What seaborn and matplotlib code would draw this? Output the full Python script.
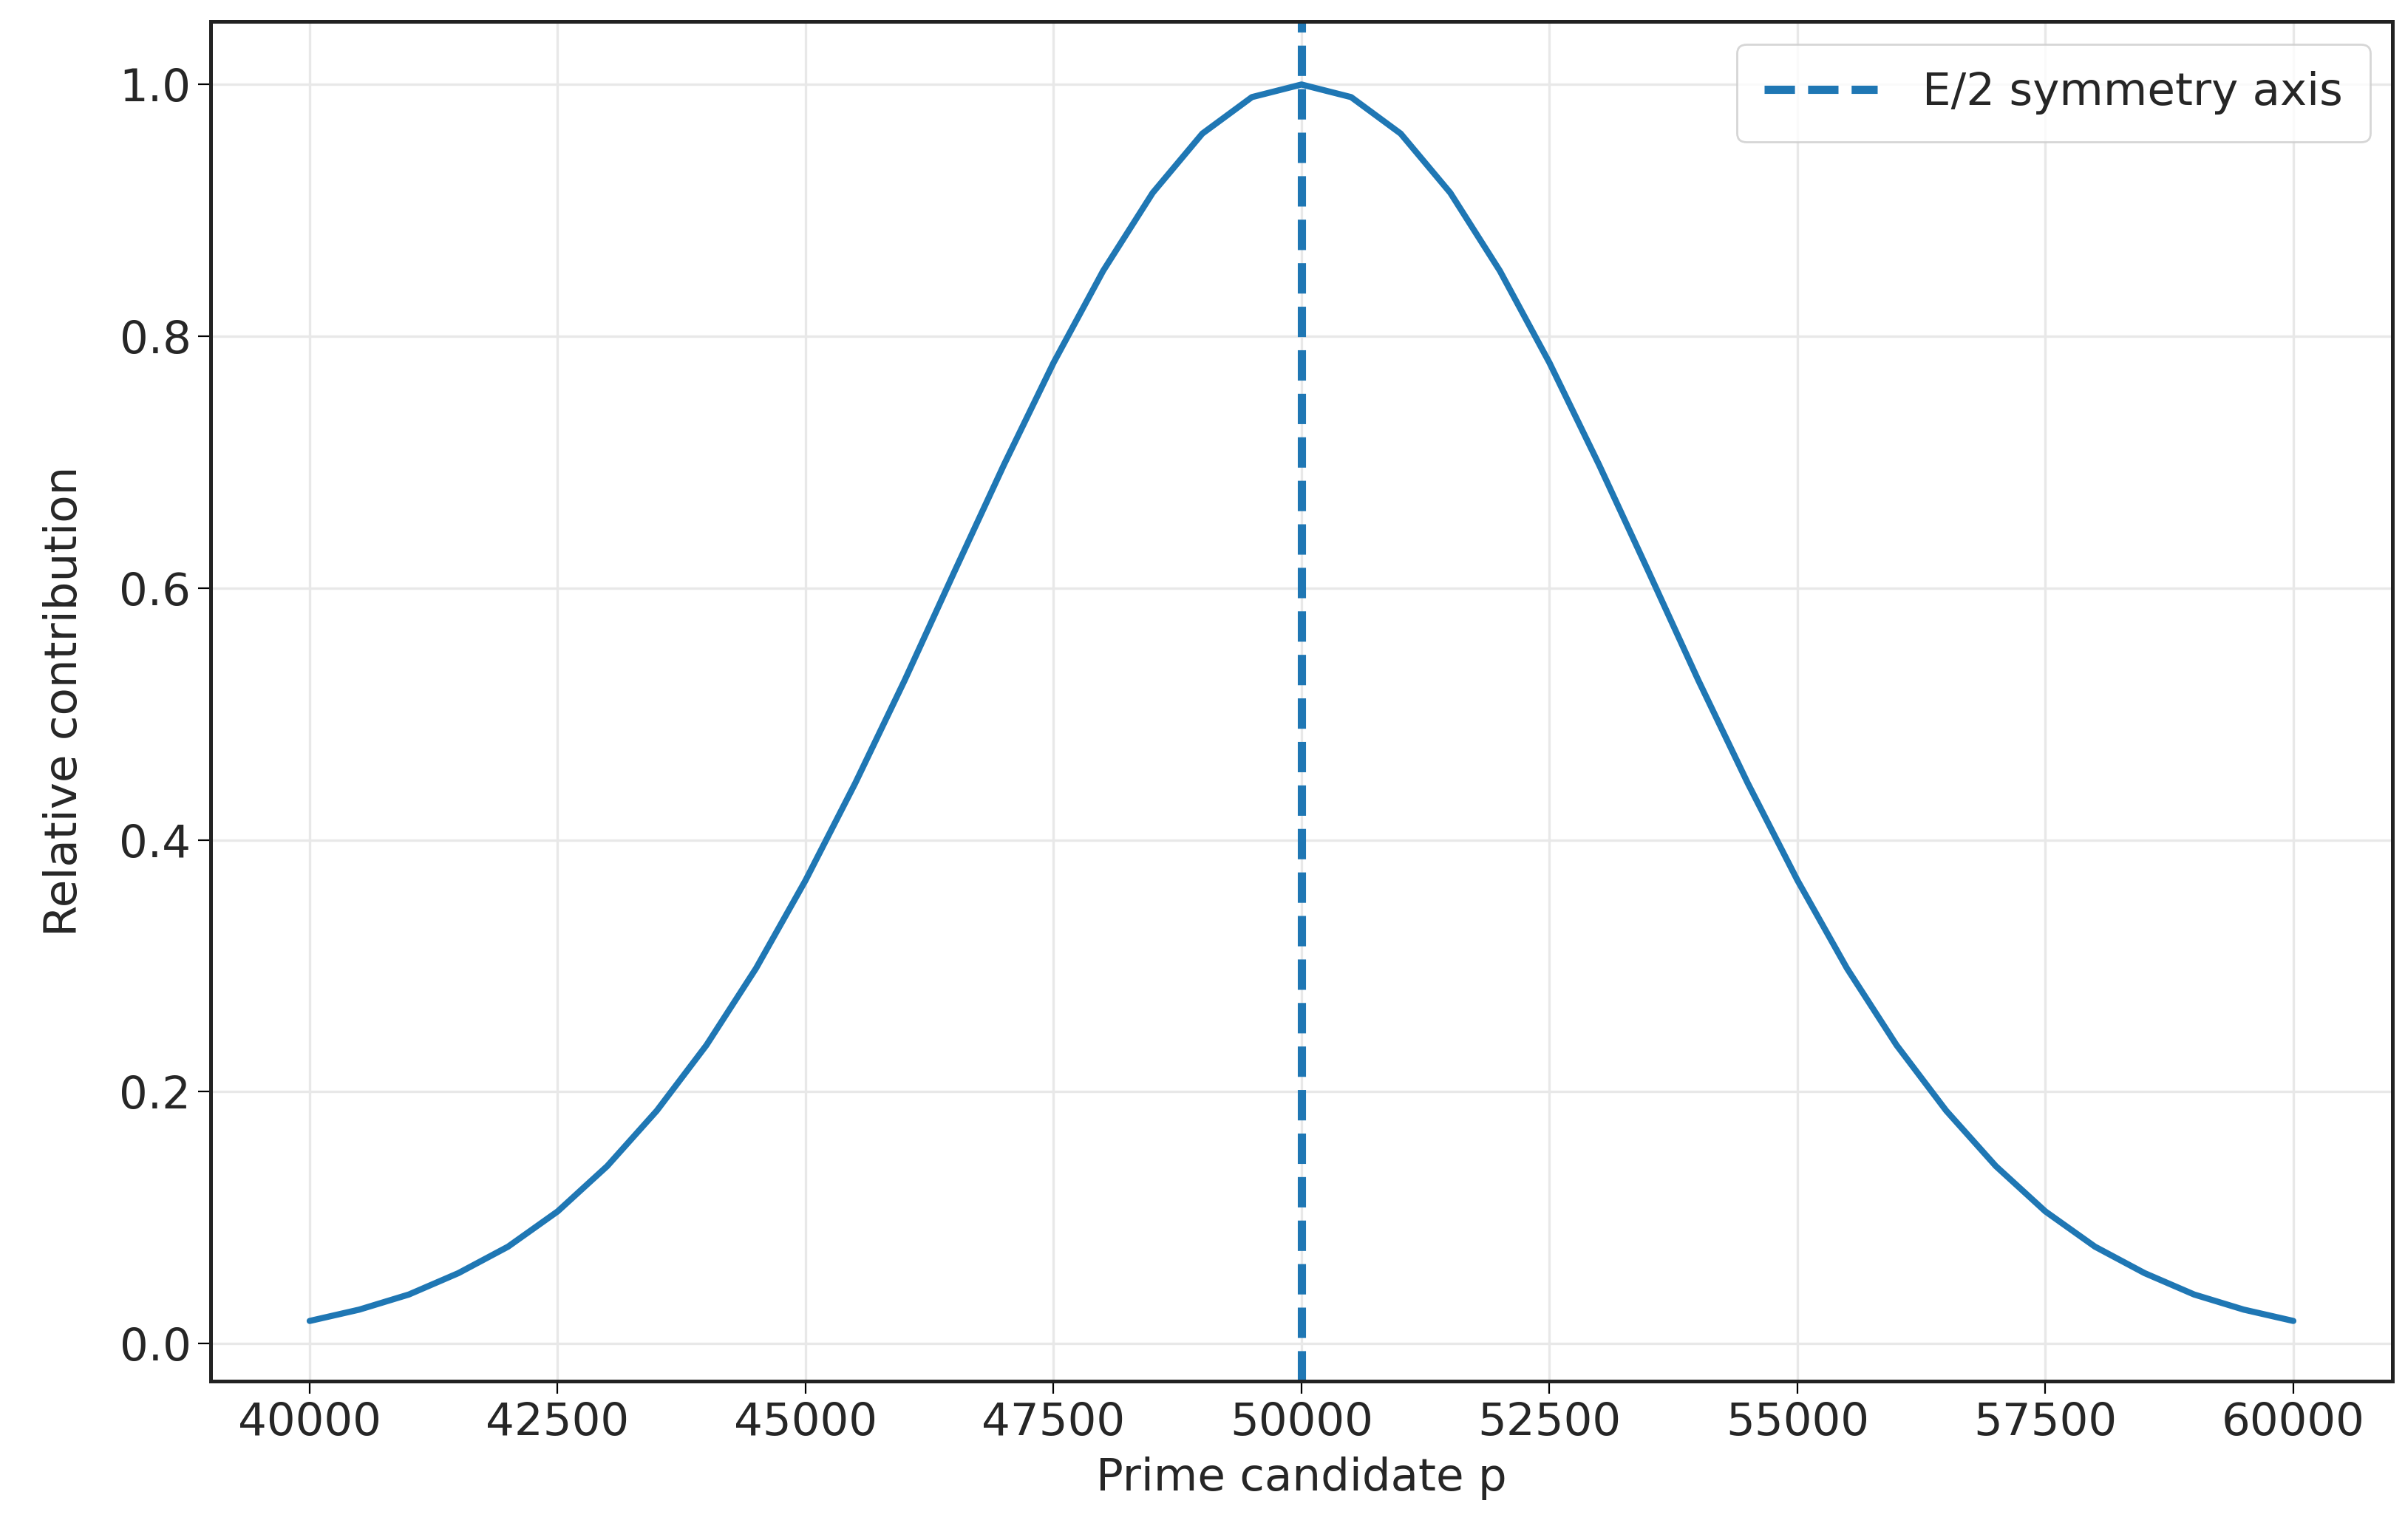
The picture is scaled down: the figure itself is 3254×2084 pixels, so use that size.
import numpy as np
import pandas as pd
import matplotlib
matplotlib.use("Agg")
import matplotlib.pyplot as plt
import seaborn as sns

# values (curve is symmetric around 50000)
p_values = list(range(40000, 60001, 500))
half = [0.018, 0.027, 0.039, 0.056, 0.077, 0.105, 0.141, 0.185, 0.237, 0.298,
        0.368, 0.445, 0.527, 0.613, 0.698, 0.779, 0.852, 0.914, 0.961, 0.990]
contribution = half + [1.0] + half[::-1]
axis_x = 50000

df = pd.DataFrame({"p": p_values, "contribution": contribution})

sns.set_style("whitegrid")
plt.rcParams['font.family'] = ['DejaVu Sans']

fig = plt.figure(figsize=(16.275, 10.42), dpi=200)
ax = fig.add_axes([0.0875, 0.103, 0.907, 0.883])

sns.lineplot(data=df, x="p", y="contribution", ax=ax, color="#1f77b4", linewidth=3)
ax.axvline(axis_x, color="#1f77b4", linestyle="--", linewidth=4, label="E/2 symmetry axis")

ax.set_xlim(39000, 61000)
ax.set_ylim(-0.03, 1.05)
ax.set_xticks(range(40000, 60001, 2500))
ax.set_xlabel("Prime candidate p", fontsize=22, labelpad=6)
ax.set_ylabel("Relative contribution", fontsize=22, labelpad=16)
ax.tick_params(labelsize=22, length=6, color="black", left=True, bottom=True)
ax.grid(True, color="#e8e8e8", linewidth=1.2)
for s in ax.spines.values():
    s.set_color("#222222")
    s.set_linewidth(1.8)
ax.legend(loc="upper right", fontsize=22, handlelength=2.5, borderpad=0.6, handletextpad=1.0)

fig.savefig("out.png", dpi=200)
